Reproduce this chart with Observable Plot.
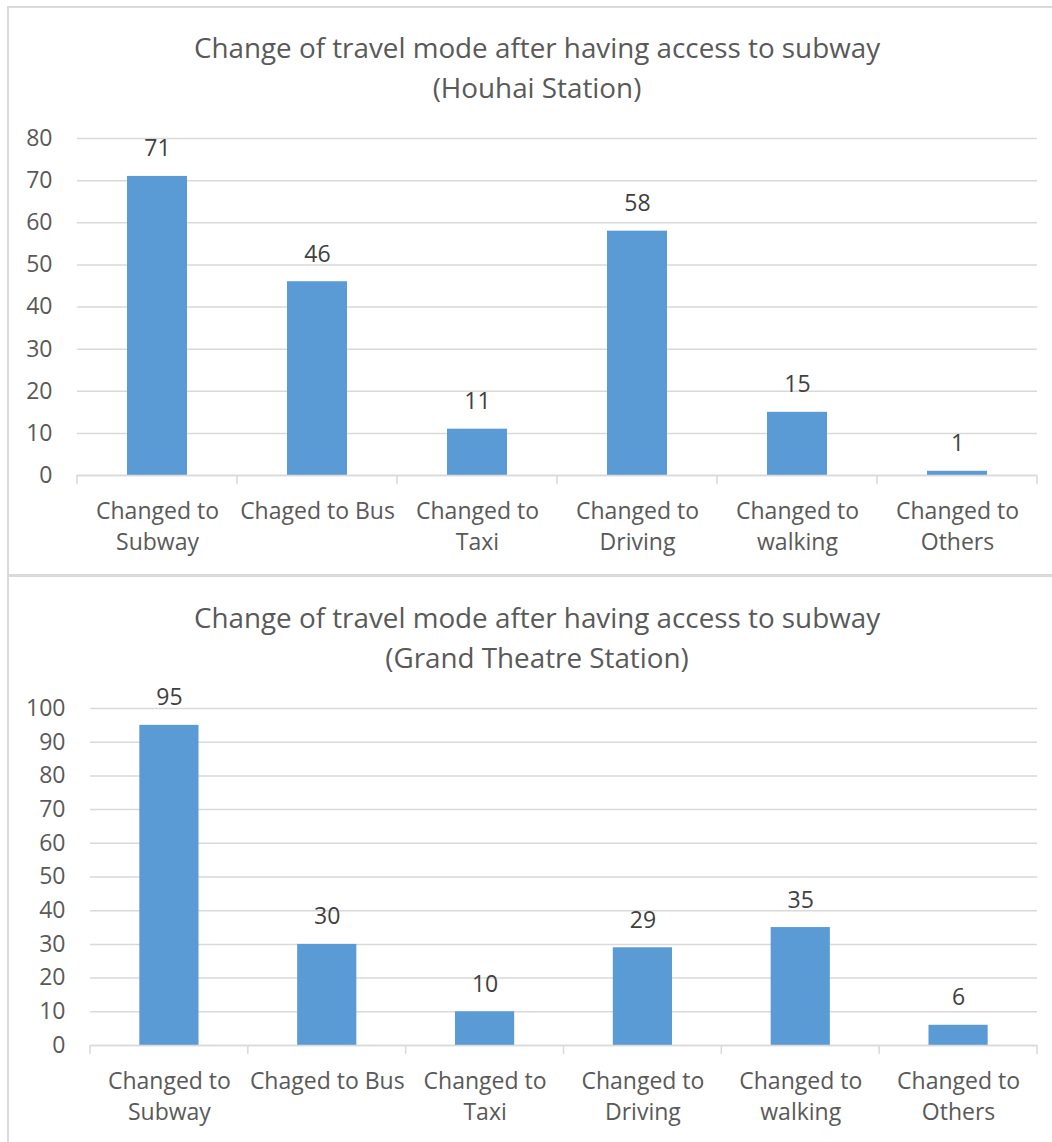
<!DOCTYPE html>
<html>
<head>
<meta charset="utf-8">
<script src="https://cdn.jsdelivr.net/npm/d3@7"></script>
<script src="https://cdn.jsdelivr.net/npm/@observablehq/plot@0.6"></script>
<style>
  html, body { margin: 0; padding: 0; background: #fff; }
  body { position: relative; width: 1052px; height: 1142px; overflow: hidden; font-family: "Open Sans", sans-serif; }
  .panel { position: absolute; box-sizing: border-box; border-color: #d9d9d9; border-style: solid; border-width: 0; }
  .title { position: absolute; left: 22px; width: 1030px; text-align: center; color: #595959; font-size: 27.8px; line-height: 40px; white-space: nowrap; }
  .chart { position: absolute; left: 0; }
  .chart svg { display: block; background: transparent; }
</style>
</head>
<body>
<div class="panel" style="left:7px; top:6px; width:1045px; height:568px; border-left-width:2px; border-top-width:2px;"></div>
<div class="panel" style="left:7px; top:574px; width:1045px; height:3px; background:#d9d9d9;"></div>
<div class="panel" style="left:7px; top:577px; width:1045px; height:565px; border-left-width:2px;"></div>

<div class="title" id="title1" style="top:27px;"></div>
<div class="chart" id="chart1" style="top:80px;"></div>
<div class="title" id="title2" style="top:597px;"></div>
<div class="chart" id="chart2" style="top:650px;"></div>

<script>
// Travel-mode categories shared by both stations
const categories = [
  "Changed to\nSubway",
  "Chaged to Bus",
  "Changed to\nTaxi",
  "Changed to\nDriving",
  "Changed to\nwalking",
  "Changed to\nOthers"
];

// Respondent counts per station
const houhaiValues = [71, 46, 11, 58, 15, 1];
const grandTheatreValues = [95, 30, 10, 29, 35, 6];

// Y-axis tick values
const houhaiTicks = [0, 10, 20, 30, 40, 50, 60, 70, 80];
const grandTheatreTicks = [0, 10, 20, 30, 40, 50, 60, 70, 80, 90, 100];

const titleLine = "Change of travel mode after having access to subway";
const houhaiSubtitle = "(Houhai Station)";
const grandTheatreSubtitle = "(Grand Theatre Station)";

const BAR = "#5b9bd5";
const GRID = "#d9d9d9";
const AXIS_TEXT = "#595959";
const LABEL_TEXT = "#404040";

// Short tick marks at the boundaries between category bands
function bandSeparators(len) {
  return (index, scales, values, dimensions) => {
    const n = scales.x.domain().length;
    const {width, marginLeft, marginRight} = dimensions;
    const step = (width - marginLeft - marginRight) / n;
    const edges = d3.range(n + 1).map(k => marginLeft + k * step);
    const y0 = scales.y(0);
    const g = d3.create("svg:g")
      .attr("stroke", GRID)
      .attr("stroke-width", 1.5);
    g.selectAll("line").data(edges).join("line")
      .attr("x1", d => d).attr("x2", d => d)
      .attr("y1", y0).attr("y2", y0 + len);
    return g.node();
  };
}

function drawChart(el, values, ticks, marginLeft) {
  const data = categories.map((c, i) => ({category: c, value: values[i]}));
  const yMax = ticks[ticks.length - 1];
  const plot = Plot.plot({
    width: 1052,
    height: 490,
    marginTop: 58,
    marginBottom: 95,
    marginLeft,
    marginRight: 15,
    style: {fontFamily: "Open Sans, sans-serif", color: AXIS_TEXT, background: "transparent"},
    x: {domain: categories, paddingInner: 0.625, paddingOuter: 0.3125, round: false, label: null},
    y: {domain: [0, yMax], label: null},
    marks: [
      Plot.gridY(ticks, {stroke: GRID, strokeOpacity: 1, strokeWidth: 1.5}),
      Plot.barY(data, {x: "category", y: "value", fill: BAR}),
      Plot.ruleY([0], {stroke: GRID, strokeWidth: 1.5}),
      bandSeparators(9),
      Plot.text(data, {
        x: "category", y: "value", text: d => String(d.value),
        dy: -20, lineAnchor: "bottom", fontSize: 23, fill: LABEL_TEXT
      }),
      Plot.axisY(ticks, {tickSize: 0, tickPadding: 25, fontSize: 23, fill: AXIS_TEXT, label: null}),
      Plot.axisX({tickSize: 0, tickPadding: 21, fontSize: 23, lineHeight: 1.35, fill: AXIS_TEXT, label: null})
    ]
  });
  document.getElementById(el).appendChild(plot);
}

function setTitle(id, sub) {
  const t = document.getElementById(id);
  const l1 = document.createElement("div"); l1.textContent = titleLine;
  const l2 = document.createElement("div"); l2.textContent = sub;
  t.appendChild(l1); t.appendChild(l2);
}

setTitle("title1", houhaiSubtitle);
setTitle("title2", grandTheatreSubtitle);
drawChart("chart1", houhaiValues, houhaiTicks, 77);
drawChart("chart2", grandTheatreValues, grandTheatreTicks, 90);
</script>
</body>
</html>
